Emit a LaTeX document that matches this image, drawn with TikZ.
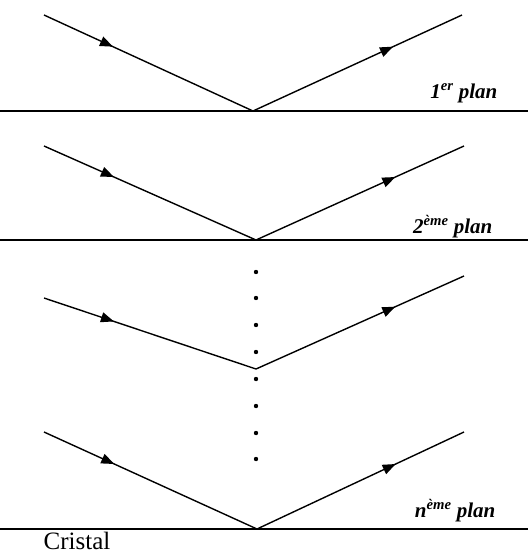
\documentclass[tikz,border=0pt]{standalone}
\usepackage{fontspec}
\setmainfont{Liberation Serif}
\usetikzlibrary{arrows.meta, decorations.markings}

\begin{document}
\begin{tikzpicture}[x=1pt, y=-1pt, line width=1.4pt,
    ray/.style={postaction={decorate}, decoration={markings,
        mark=at position #1 with {\arrow{Triangle[length=13pt,width=10pt]}}}},
    plane/.style={line width=1.6pt},
    planlabel/.style={font=\fontsize{21}{23}\selectfont\bfseries\itshape, anchor=base east, inner sep=0pt}]
    \useasboundingbox (0,0) rectangle (528,558);
    % Plan 1
    \coordinate (A1) at (44,15);
    \coordinate (V1) at (253,111);
    \coordinate (B1) at (462,15);
    \draw[plane] (0,111) -- (528,111);
    \draw[ray=0.33] (A1) -- (V1);
    \draw[ray=0.67] (V1) -- (B1);
    \node[planlabel] (L1) at (498,98) {1\textsuperscript{er} plan};
    % Plan 2
    \coordinate (A2) at (44,146);
    \coordinate (V2) at (256,240);
    \coordinate (B2) at (464,146);
    \draw[plane] (0,240) -- (528,240);
    \draw[ray=0.33] (A2) -- (V2);
    \draw[ray=0.67] (V2) -- (B2);
    \node[planlabel] (L2) at (493,233) {2\textsuperscript{ème} plan};
    % Dots
    \foreach \y in {272,298,325,352,379,406,433,459}
        \fill (256,\y) circle (2.2pt);
    % Intermediate plan
    \coordinate (A3) at (44,298);
    \coordinate (V3) at (256,369);
    \coordinate (B3) at (464,276);
    \draw[ray=0.33] (A3) -- (V3);
    \draw[ray=0.67] (V3) -- (B3);
    % Plan n
    \coordinate (A4) at (44,432);
    \coordinate (V4) at (257,529);
    \coordinate (B4) at (464,432);
    \draw[plane] (0,529) -- (528,529);
    \draw[ray=0.33] (A4) -- (V4);
    \draw[ray=0.67] (V4) -- (B4);
    \node[planlabel] (L4) at (496,517) {n\textsuperscript{ème} plan};
    % Crystal
    \node[font=\fontsize{25}{27}\selectfont, anchor=base west, inner sep=0pt] (cristal) at (43,549) {Cristal};
\end{tikzpicture}
\end{document}
